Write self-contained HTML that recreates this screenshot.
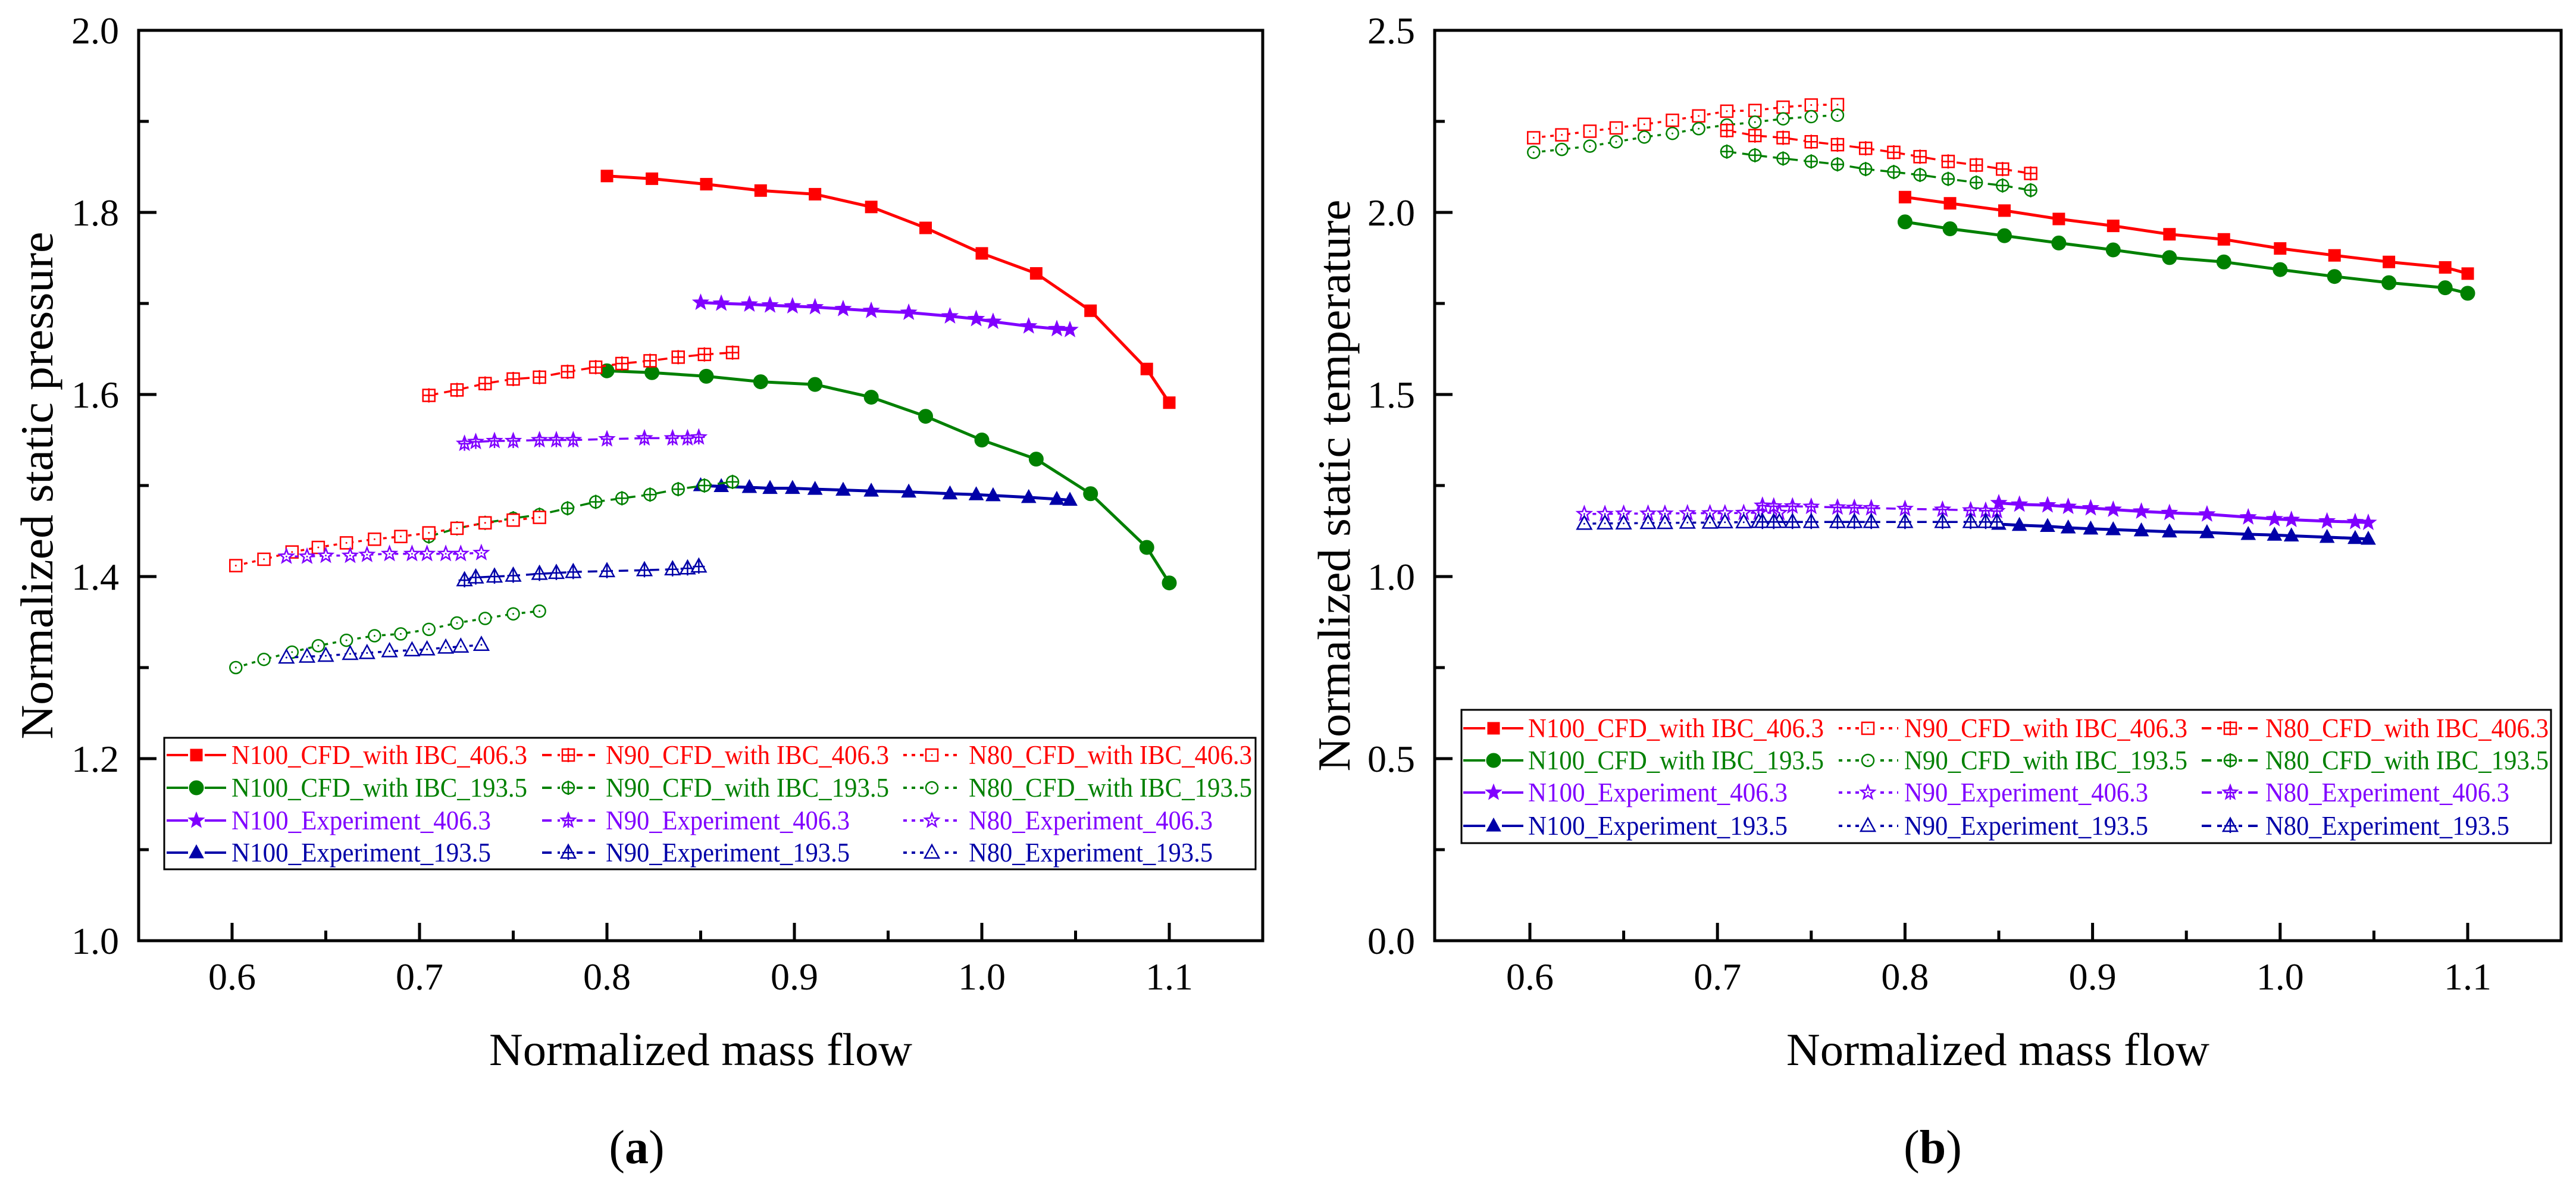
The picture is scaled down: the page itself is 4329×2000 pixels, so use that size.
<!DOCTYPE html>
<html><head><meta charset="utf-8">
<style>
html,body{margin:0;padding:0;background:#fff;}
svg, svg text{font-family:"Liberation Serif","Times New Roman","DejaVu Serif",serif;}
</style></head>
<body>
<svg id="fig" width="4329" height="1995" viewBox="0 0 4329 1995" xmlns="http://www.w3.org/2000/svg" font-family="Liberation Serif, Times New Roman, DejaVu Serif, serif"></svg>
<script>
// ---------- data ----------
const xN100 = [0.800,0.824,0.853,0.882,0.911,0.941,0.970,1.000,1.029,1.058,1.088,1.100];
const xN100exp = [0.850,0.861,0.876,0.887,0.899,0.911,0.926,0.941,0.961,0.983,0.997,1.006,1.025,1.040,1.047];
const xN90cfd = [0.705,0.720,0.735,0.750,0.764,0.779,0.794,0.808,0.823,0.838,0.852,0.867];
const xN80cfd = [0.602,0.617,0.632,0.646,0.661,0.676,0.690,0.705,0.720,0.735,0.750,0.764];
const xN90exp = [0.724,0.730,0.740,0.750,0.764,0.773,0.782,0.800,0.820,0.835,0.843,0.849];
const xN80exp = [0.629,0.640,0.650,0.663,0.672,0.684,0.696,0.704,0.714,0.722,0.733];

// (a) static pressure
const pN100cfd406 = [1.840,1.837,1.831,1.824,1.820,1.806,1.783,1.755,1.733,1.692,1.628,1.591];
const pN100cfd193 = [1.626,1.624,1.620,1.614,1.611,1.597,1.576,1.550,1.529,1.491,1.432,1.393];
const pN100exp406 = [1.701,1.700,1.699,1.698,1.697,1.696,1.694,1.692,1.690,1.686,1.683,1.680,1.675,1.672,1.671];
const pN100exp193 = [1.500,1.499,1.498,1.497,1.497,1.496,1.495,1.494,1.493,1.491,1.490,1.489,1.487,1.485,1.484];
const pN90cfd406 = [1.599,1.605,1.612,1.617,1.619,1.625,1.630,1.634,1.637,1.641,1.644,1.646];
const pN90cfd193 = [1.444,1.453,1.459,1.464,1.468,1.475,1.482,1.486,1.490,1.496,1.500,1.504];
const pN80cfd406 = [1.412,1.419,1.427,1.432,1.437,1.441,1.444,1.448,1.453,1.459,1.462,1.465];
const pN80cfd193 = [1.300,1.309,1.317,1.324,1.330,1.335,1.337,1.342,1.349,1.354,1.359,1.362];
const pN90exp406 = [1.546,1.548,1.549,1.549,1.550,1.550,1.550,1.551,1.552,1.552,1.552,1.553];
const pN90exp193 = [1.396,1.399,1.400,1.401,1.403,1.404,1.405,1.406,1.407,1.408,1.409,1.411];
const pN80exp406 = [1.422,1.422,1.423,1.423,1.424,1.425,1.425,1.425,1.425,1.425,1.426];
const pN80exp193 = [1.311,1.312,1.313,1.315,1.316,1.318,1.319,1.320,1.322,1.323,1.325];

// (b) static temperature
const tN100cfd406 = [2.042,2.025,2.005,1.982,1.963,1.940,1.926,1.901,1.882,1.864,1.849,1.832];
const tN100cfd193 = [1.974,1.955,1.936,1.916,1.897,1.876,1.864,1.843,1.824,1.807,1.793,1.778];
const tN100exp406 = [1.202,1.198,1.196,1.192,1.188,1.184,1.179,1.175,1.171,1.163,1.158,1.156,1.152,1.150,1.148];
const tN100exp193 = [1.144,1.141,1.138,1.134,1.131,1.129,1.126,1.123,1.121,1.116,1.114,1.112,1.108,1.105,1.103];
const tN90cfd406 = [2.205,2.213,2.223,2.232,2.242,2.253,2.265,2.278,2.280,2.289,2.295,2.296];
const tN90cfd193 = [2.165,2.173,2.182,2.194,2.207,2.217,2.230,2.240,2.248,2.257,2.263,2.267];
const tN80cfd406 = [2.225,2.211,2.205,2.194,2.186,2.176,2.165,2.153,2.140,2.130,2.119,2.107];
const tN80cfd193 = [2.167,2.157,2.148,2.140,2.132,2.119,2.111,2.103,2.092,2.082,2.074,2.061];
const tN90exp406 = [1.172,1.172,1.173,1.173,1.173,1.174,1.174,1.174,1.175,1.175,1.175];
const tN90exp193 = [1.145,1.146,1.146,1.147,1.147,1.148,1.148,1.149,1.149,1.150,1.150];
const tN80exp406 = [1.195,1.193,1.193,1.192,1.190,1.189,1.188,1.186,1.184,1.182,1.181,1.180];
const tN80exp193 = [1.150,1.150,1.150,1.150,1.150,1.150,1.150,1.150,1.150,1.150,1.150,1.150];

const xTicks = [0.6,0.7,0.8,0.9,1.0,1.1];
const xTickLabels = ["0.6","0.7","0.8","0.9","1.0","1.1"];
const yTicksA = [1.0,1.2,1.4,1.6,1.8,2.0];
const yTickLabelsA = ["1.0","1.2","1.4","1.6","1.8","2.0"];
const yTicksB = [0.0,0.5,1.0,1.5,2.0,2.5];
const yTickLabelsB = ["0.0","0.5","1.0","1.5","2.0","2.5"];

// ---------- drawing ----------
const NS = "http://www.w3.org/2000/svg";
const FONT = "Liberation Serif, Times New Roman, DejaVu Serif, serif";
const svg = document.getElementById("fig");
const RED="#ff0000", GREEN="#008000", PURPLE="#8000ff", BLUE="#0000a8";
function el(tag, attrs, parent){
  const e=document.createElementNS(NS,tag);
  for(const k in attrs) e.setAttribute(k,attrs[k]);
  if(tag==="text") e.setAttribute("font-family",FONT);
  (parent||svg).appendChild(e); return e;
}
function starPts(cx,cy,r){
  let p=[];
  for(let i=0;i<10;i++){const a=-Math.PI/2+i*Math.PI/5;const rr=i%2?r*0.42:r;p.push((cx+rr*Math.cos(a)).toFixed(1)+","+(cy+rr*Math.sin(a)).toFixed(1));}
  return p.join(" ");
}
function marker(g,type,cx,cy,color,filled,plus){
  const fill=filled?color:"#fff";
  const sw=filled?0:2.5;
  let m;
  if(type==="sq"){m=el("rect",{x:cx-10,y:cy-10,width:20,height:20,fill:fill,stroke:color,"stroke-width":sw||1},g);}
  else if(type==="ci"){m=el("circle",{cx:cx,cy:cy,r:filled?12:10,fill:fill,stroke:color,"stroke-width":sw||1},g);}
  else if(type==="star"){m=el("polygon",{points:starPts(cx,cy,filled?14:12),fill:fill,stroke:color,"stroke-width":sw||1},g);}
  else {m=el("polygon",{points:`${cx},${cy-13} ${cx+12},${cy+9} ${cx-12},${cy+9}`,fill:fill,stroke:color,"stroke-width":sw||1},g);}
  
  
  if(plus){
    el("line",{x1:cx-10,y1:cy,x2:cx+10,y2:cy,stroke:color,"stroke-width":2.5},g);
    el("line",{x1:cx,y1:cy-12,x2:cx,y2:cy+12,stroke:color,"stroke-width":2.5},g);
  } else if(!filled){
    el("circle",{cx:cx,cy:cy,r:1.5,fill:color},g);
  }
}
const DASH="16,10", DOT="6,8";
function labelLen(lbl){
  if(lbl.startsWith("N100_CFD")) return 497;
  if(lbl.indexOf("CFD")>=0) return 476;
  if(lbl.startsWith("N100")) return 436;
  return 410;
}

function drawChart(cfg){
  const {L,R,T,B,xmin,xmax,ymin,ymax,x0px,x1px} = cfg;
  const X=v=>x0px+(v-xmin)*(x1px-x0px)/(xmax-xmin);
  const Y=v=>B-(v-ymin)*(B-T)/(ymax-ymin);
  const g=el("g",{});
  
  
  const fr=el("rect",{x:L,y:T,width:R-L,height:B-T,fill:"none",stroke:"#000","stroke-width":5},g);
  
  
  for(let v=0.6;v<=1.1001;v+=0.05){
    const major=Math.abs(Math.round(v*10)-v*10)<0.01;
    el("line",{x1:X(v),y1:B,x2:X(v),y2:B-(major?30:17),stroke:"#000","stroke-width":5},g);
  }
  xTicks.forEach((v,i)=>{
    const t=el("text",{x:X(v),y:1663,"font-size":64,"text-anchor":"middle",fill:"#000"},g);
    t.textContent=xTickLabels[i];
    
    
  });
  const yt=cfg.yTicks, step=yt[1]-yt[0];
  for(let i=0;i<yt.length;i++){
    el("line",{x1:L,y1:Y(yt[i]),x2:L+30,y2:Y(yt[i]),stroke:"#000","stroke-width":5},g);
    if(i<yt.length-1){const m=yt[i]+step/2;el("line",{x1:L,y1:Y(m),x2:L+17,y2:Y(m),stroke:"#000","stroke-width":5},g);}
    const t=el("text",{x:L-33,y:Y(yt[i])+22,"font-size":64,"text-anchor":"end",fill:"#000"},g);
    t.textContent=cfg.yTickLabels[i];
    
    
  }
  const xt=el("text",{x:(L+R)/2,y:1790,"font-size":77,"text-anchor":"middle",fill:"#000",textLength:711,lengthAdjust:"spacingAndGlyphs"},g);
  xt.textContent="Normalized mass flow";
  
  
  const ytl=el("text",{x:0,y:0,"font-size":77,"text-anchor":"middle",fill:"#000",textLength:cfg.ytlen,lengthAdjust:"spacingAndGlyphs",transform:`translate(${cfg.ytx},${(T+B)/2}) rotate(-90)`},g);
  ytl.textContent=cfg.ytitle;
  
  
  const pl=el("text",{x:cfg.labx,y:1955,"font-size":80,"text-anchor":"middle",fill:"#000"},g);
  pl.innerHTML='(<tspan font-weight="bold">'+cfg.lab+'</tspan>)';
  
  
  cfg.series.forEach(s=>{
    const sg=el("g",{},g);
    
    
    const pts=s.x.map((xv,i)=>X(xv).toFixed(1)+","+Y(s.y[i]).toFixed(1)).join(" ");
    const a={points:pts,fill:"none",stroke:s.c,"stroke-width":s.filled?5:3.5,"stroke-linejoin":"round"};
    if(s.dash) a["stroke-dasharray"]=s.dash;
    el("polyline",a,sg);
    s.x.forEach((xv,i)=>marker(sg,s.m,X(xv),Y(s.y[i]),s.c,s.filled,s.plus));
  });
  const lg=cfg.legend;
  const lb=el("rect",{x:lg.x,y:lg.y,width:lg.w,height:lg.h,fill:"#fff",stroke:"#000","stroke-width":3},g);
  
  
  cfg.series.forEach(s=>{
    const cx=lg.cols[s.col], cy=lg.rows[s.row];
    const eg=el("g",{},g);
    
    
    const a={x1:cx.l0,y1:cy,x2:cx.l1,y2:cy,stroke:s.c,"stroke-width":4};
    if(s.dash) a["stroke-dasharray"]=s.dash;
    el("line",a,eg);
    el("rect",{x:cx.m-14,y:cy-14,width:28,height:28,fill:"#fff"},eg);
    marker(eg,s.m,cx.m,cy,s.c,s.filled,s.plus);
    const t=el("text",{x:cx.t,y:cy+15,"font-size":45,fill:s.c,textLength:labelLen(s.label),lengthAdjust:"spacingAndGlyphs"},eg);
    t.textContent=s.label;
  });
}

drawChart({name:"chart-a-static-pressure",L:233,R:2122,T:51,B:1581,xmin:0.6,xmax:1.1,x0px:390,x1px:1965,ymin:1.0,ymax:2.0,
  yTicks:yTicksA,yTickLabels:yTickLabelsA,ytitle:"Normalized static pressure",ytlen:853,ytx:88,lab:"a",labx:1070,
  legend:{x:276,y:1240,w:1834,h:221,rows:[1269,1324,1379,1433],
    cols:[{l0:280,l1:380,m:330,t:389},{l0:911,l1:1000,m:955,t:1018},{l0:1518,l1:1612,m:1566,t:1628}]},
  series:[
   {name:"n100-cfd-406",label:"N100_CFD_with IBC_406.3",x:xN100,y:pN100cfd406,c:RED,m:"sq",filled:true,col:0,row:0},
   {name:"n100-cfd-193",label:"N100_CFD_with IBC_193.5",x:xN100,y:pN100cfd193,c:GREEN,m:"ci",filled:true,col:0,row:1},
   {name:"n100-exp-406",label:"N100_Experiment_406.3",x:xN100exp,y:pN100exp406,c:PURPLE,m:"star",filled:true,col:0,row:2},
   {name:"n100-exp-193",label:"N100_Experiment_193.5",x:xN100exp,y:pN100exp193,c:BLUE,m:"tri",filled:true,col:0,row:3},
   {name:"n90-cfd-406",label:"N90_CFD_with IBC_406.3",x:xN90cfd,y:pN90cfd406,c:RED,m:"sq",plus:true,dash:DASH,col:1,row:0},
   {name:"n90-cfd-193",label:"N90_CFD_with IBC_193.5",x:xN90cfd,y:pN90cfd193,c:GREEN,m:"ci",plus:true,dash:DASH,col:1,row:1},
   {name:"n90-exp-406",label:"N90_Experiment_406.3",x:xN90exp,y:pN90exp406,c:PURPLE,m:"star",plus:true,dash:DASH,col:1,row:2},
   {name:"n90-exp-193",label:"N90_Experiment_193.5",x:xN90exp,y:pN90exp193,c:BLUE,m:"tri",plus:true,dash:DASH,col:1,row:3},
   {name:"n80-cfd-406",label:"N80_CFD_with IBC_406.3",x:xN80cfd,y:pN80cfd406,c:RED,m:"sq",dash:DOT,col:2,row:0},
   {name:"n80-cfd-193",label:"N80_CFD_with IBC_193.5",x:xN80cfd,y:pN80cfd193,c:GREEN,m:"ci",dash:DOT,col:2,row:1},
   {name:"n80-exp-406",label:"N80_Experiment_406.3",x:xN80exp,y:pN80exp406,c:PURPLE,m:"star",dash:DOT,col:2,row:2},
   {name:"n80-exp-193",label:"N80_Experiment_193.5",x:xN80exp,y:pN80exp193,c:BLUE,m:"tri",dash:DOT,col:2,row:3}
  ]});

drawChart({name:"chart-b-static-temperature",L:2411,R:4304,T:51,B:1581,xmin:0.6,xmax:1.1,x0px:2571,x1px:4147,ymin:0,ymax:2.5,
  yTicks:yTicksB,yTickLabels:yTickLabelsB,ytitle:"Normalized static temperature",ytlen:961,ytx:2268,lab:"b",labx:3248,
  legend:{x:2456,y:1193,w:1831,h:224,rows:[1224,1278,1332,1388],
    cols:[{l0:2459,l1:2560,m:2510,t:2568},{l0:3090,l1:3190,m:3139,t:3200},{l0:3700,l1:3795,m:3748,t:3807}]},
  series:[
   {name:"n100-cfd-406",label:"N100_CFD_with IBC_406.3",x:xN100,y:tN100cfd406,c:RED,m:"sq",filled:true,col:0,row:0},
   {name:"n100-cfd-193",label:"N100_CFD_with IBC_193.5",x:xN100,y:tN100cfd193,c:GREEN,m:"ci",filled:true,col:0,row:1},
   {name:"n100-exp-406",label:"N100_Experiment_406.3",x:xN100exp,y:tN100exp406,c:PURPLE,m:"star",filled:true,col:0,row:2},
   {name:"n100-exp-193",label:"N100_Experiment_193.5",x:xN100exp,y:tN100exp193,c:BLUE,m:"tri",filled:true,col:0,row:3},
   {name:"n90-cfd-406",label:"N90_CFD_with IBC_406.3",x:xN80cfd,y:tN90cfd406,c:RED,m:"sq",dash:DOT,col:1,row:0},
   {name:"n90-cfd-193",label:"N90_CFD_with IBC_193.5",x:xN80cfd,y:tN90cfd193,c:GREEN,m:"ci",dash:DOT,col:1,row:1},
   {name:"n90-exp-406",label:"N90_Experiment_406.3",x:xN80exp,y:tN90exp406,c:PURPLE,m:"star",dash:DOT,col:1,row:2},
   {name:"n90-exp-193",label:"N90_Experiment_193.5",x:xN80exp,y:tN90exp193,c:BLUE,m:"tri",dash:DOT,col:1,row:3},
   {name:"n80-cfd-406",label:"N80_CFD_with IBC_406.3",x:xN90cfd,y:tN80cfd406,c:RED,m:"sq",plus:true,dash:DASH,col:2,row:0},
   {name:"n80-cfd-193",label:"N80_CFD_with IBC_193.5",x:xN90cfd,y:tN80cfd193,c:GREEN,m:"ci",plus:true,dash:DASH,col:2,row:1},
   {name:"n80-exp-406",label:"N80_Experiment_406.3",x:xN90exp,y:tN80exp406,c:PURPLE,m:"star",plus:true,dash:DASH,col:2,row:2},
   {name:"n80-exp-193",label:"N80_Experiment_193.5",x:xN90exp,y:tN80exp193,c:BLUE,m:"tri",plus:true,dash:DASH,col:2,row:3}
  ]});
</script>
</body></html>
